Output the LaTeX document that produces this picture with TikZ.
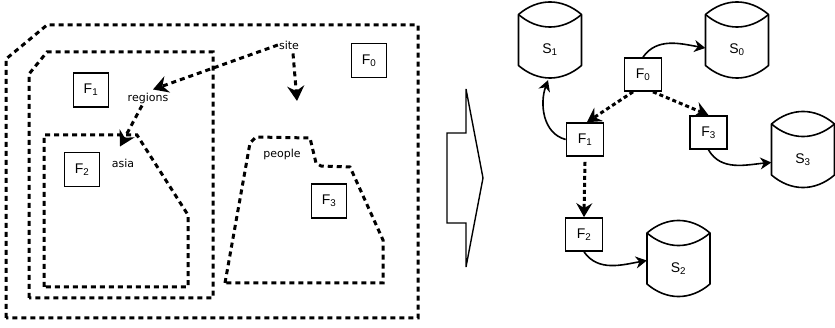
\documentclass[tikz,border=0pt]{standalone}
\usepackage{fontspec}
\setmainfont{Liberation Sans}
\newfontfamily\lblfont{DejaVu Sans}
\usetikzlibrary{arrows.meta,calc}
% #1 name, #2 centre x, #3 centre y (down positive), #4 label
\newcommand\storeshape[4]{%
  \node[storebox,label={[font=\fontsize{14}{16}\selectfont,yshift=-10pt]center:#4}] (#1) at (#2,-#3) {};
  \draw[line width=1.6pt,line join=round] ({#2-31.5},{-#3+25.5}) -- ({#2-31.5},{-#3-25.5})
    .. controls ({#2-12},{-#3-42.2}) and ({#2+12},{-#3-42.2}) .. ({#2+31.5},{-#3-25.5})
    -- ({#2+31.5},{-#3+25.5})
    .. controls ({#2+12},{-#3+42.2}) and ({#2-12},{-#3+42.2}) .. ({#2-31.5},{-#3+25.5}) -- cycle;
  \draw[line width=1.6pt] ({#2-31.5},{-#3+25.5})
    .. controls ({#2-12},{-#3+8.8}) and ({#2+12},{-#3+8.8}) .. ({#2+31.5},{-#3+25.5});
}
\begin{document}
\begin{tikzpicture}[x=1pt,y=1pt,
  fbox/.style={draw,line width=1.7pt,minimum width=35pt,minimum height=34pt,inner sep=0pt,font=\fontsize{14}{16}\selectfont},
  rbox/.style={fbox,minimum width=37pt,minimum height=33pt},
  region/.style={line width=3pt,dash pattern=on 5pt off 4pt},
  lbl/.style={font=\lblfont\fontsize{11}{13}\selectfont,inner sep=1pt},
  darrow/.style={line width=3pt,dash pattern=on 5pt off 4pt,-{Stealth[length=15pt,width=17pt,inset=5pt]}},
  rdarrow/.style={line width=3pt,dash pattern=on 4pt off 3pt,-{Stealth[length=14pt,width=16pt,inset=5pt]}},
  sarrow/.style={line width=1.6pt,-{Stealth[length=11pt,width=12pt,inset=3.5pt]}},
  storebox/.style={minimum width=63pt,minimum height=76pt,inner sep=0pt}
]
\useasboundingbox (0,0) rectangle (835,-328);

% ---- left: nested regions ----
\draw[region] (6,-318) -- (6,-59) -- (47,-25) -- (418,-25) -- (418,-318) -- cycle;
\draw[region] (29,-298) -- (29,-74) -- (47,-52) -- (213,-52) -- (213,-298) -- cycle;
\draw[region] (44,-287) -- (44,-135) -- (137,-135) -- (188,-215) -- (188,-287) -- cycle;
\draw[region] (225,-283) -- (250,-143) -- (256,-137) -- (310,-138) -- (316,-163) -- (321,-166) -- (350,-167) -- (383,-240) -- (383,-283) -- cycle;

\node[fbox] (lf0) at (369,-60.5) {F\textsubscript{0}};
\node[fbox] (lf1) at (91,-90) {F\textsubscript{1}};
\node[fbox] (lf2) at (82,-169.5) {F\textsubscript{2}};
\node[fbox] (lf3) at (329,-201) {F\textsubscript{3}};

\node[lbl] (site) at (289,-45) {site};
\node[lbl] (regions) at (148,-98) {regions};
\node[lbl] (asia) at (123,-163) {asia};
\node[lbl] (people) at (282,-154) {people};
\coordinate (sitedown) at (297,-101);

\draw[darrow] (site.west) -- ($(regions.north)+(5,2)$);
\draw[darrow] ($(site.south)+(4,-3)$) -- (sitedown);
\draw[darrow] ($(regions.south)+(-6,-1)$) -- ($(asia.north)+(-3,11)$);

% ---- big arrow ----
\draw[line width=1.4pt,line join=miter] (447,-133) -- (466,-133) -- (466,-89) -- (483,-178) -- (466,-267) -- (466,-223) -- (447,-223) -- cycle;

% ---- right: tree ----
\node[rbox] (f0) at (643,-74.5) {F\textsubscript{0}};
\node[rbox] (f1) at (585,-139.5) {F\textsubscript{1}};
\node[rbox] (f3) at (708.5,-132.5) {F\textsubscript{3}};
\node[rbox] (f2) at (584,-234.5) {F\textsubscript{2}};

\storeshape{s1}{550}{40}{S\textsubscript{1}}
\storeshape{s0}{737}{40}{S\textsubscript{0}}
\storeshape{s3}{803}{149.5}{S\textsubscript{3}}
\storeshape{s2}{678.5}{258.5}{S\textsubscript{2}}

\draw[rdarrow] ($(f0.south)+(-10,0)$) -- ($(f1.north)+(2,0)$);
\draw[rdarrow] ($(f0.south)+(10,0)$) -- (f3.north);
\draw[rdarrow] ($(f1.south)+(0,-5)$) -- (f2.north);

\draw[sarrow] (f0.north) to[out=55,in=170] ($(s0.west)+(0,-8)$);
\draw[sarrow] (f1.west) to[out=165,in=-110] ($(s1.south)+(-2,-2)$);
\draw[sarrow] (f3.south) to[out=-60,in=185] ($(s3.west)+(0,-13)$);
\draw[sarrow] (f2.south) to[out=-55,in=190] ($(s2.west)+(0,-2)$);
\end{tikzpicture}
\end{document}
